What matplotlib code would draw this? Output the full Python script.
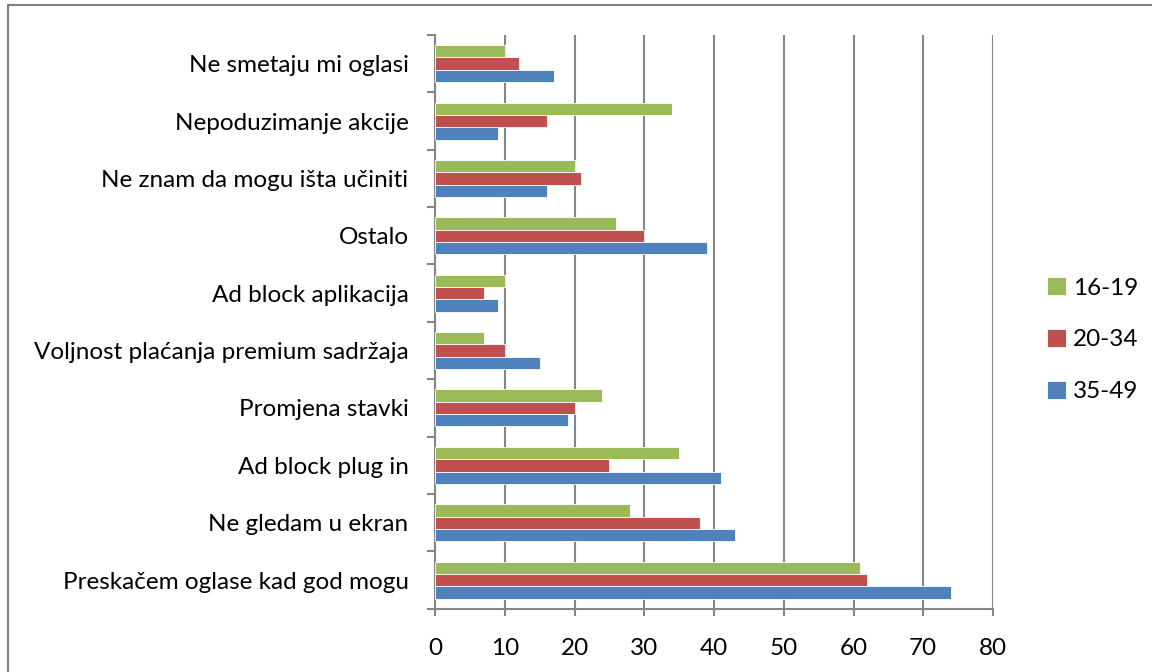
import matplotlib.pyplot as plt
from matplotlib.patches import Rectangle
import numpy as np

plt.rcParams['font.family'] = ['Lato', 'DejaVu Sans']

# categories from bottom to top
categories = ['Preskačem oglase kad god mogu', 'Ne gledam u ekran', 'Ad block plug in',
              'Promjena stavki', 'Voljnost plaćanja premium sadržaja', 'Ad block aplikacija',
              'Ostalo', 'Ne znam da mogu išta učiniti', 'Nepoduzimanje akcije',
              'Ne smetaju mi oglasi']
g16_19 = [61, 28, 35, 24, 7, 10, 26, 20, 34, 10]
g20_34 = [62, 38, 25, 20, 10, 7, 30, 21, 16, 12]
g35_49 = [74, 43, 41, 19, 15, 9, 39, 16, 9, 17]
series_names = ['16-19', '20-34', '35-49']
colors = ['#9BBB59', '#C0504D', '#4F81BD']

fig = plt.figure(figsize=(11.52, 6.72), dpi=100)
ax = fig.add_axes([0.3776, 0.094, 0.4844, 0.854])

y = np.arange(len(categories))
h = 0.215
for vals, off, c, name in zip([g16_19, g20_34, g35_49], [h, 0, -h], colors, series_names):
    ax.barh(y + off, vals, height=h, color=c, label=name, edgecolor='white', linewidth=0.6, zorder=3)

ax.set_xlim(0, 80)
ax.set_ylim(-0.5, len(categories) - 0.5)
ax.set_xticks(range(0, 81, 10))
ax.set_yticks(y)
ax.set_yticklabels(categories, fontsize=17.5)
ax.tick_params(axis='y', length=0, pad=19)
ax.tick_params(axis='x', labelsize=17.5, length=5, width=1.5, color='#868686', pad=16)
# category boundary ticks on the y axis
ax.set_yticks(np.arange(-0.5, len(categories), 1), minor=True)
ax.tick_params(axis='y', which='minor', length=6, width=1.5, color='#868686')
ax.grid(axis='x', color='#868686', linewidth=1.5, zorder=0)
for s in ['top', 'right']:
    ax.spines[s].set_visible(False)
for s in ['left', 'bottom']:
    ax.spines[s].set_color('#868686')
    ax.spines[s].set_linewidth(1.5)

handles, labels = ax.get_legend_handles_labels()
ax.legend(handles, labels, loc='center left', bbox_to_anchor=(1.08, 0.469), frameon=False,
          fontsize=17.5, handlelength=0.75, handleheight=0.75, handletextpad=0.3, labelspacing=1.25,
          borderaxespad=0)

fig.patches.append(Rectangle((8 / 1152, -0.1), 1.2, 1 - 5 / 672 + 0.1, transform=fig.transFigure,
                             fill=False, edgecolor='#7F7F7F', linewidth=1.5))

fig.savefig('out.png', dpi=100)
